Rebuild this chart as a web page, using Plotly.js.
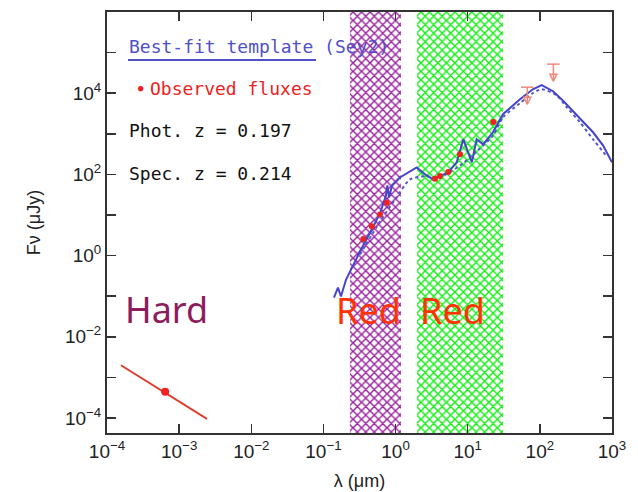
<!DOCTYPE html>
<html>
<head>
<meta charset="utf-8">
<script src="https://cdn.plot.ly/plotly-3.0.1.min.js"></script>
<style>html,body{margin:0;padding:0;background:#fff;}#chart{width:638px;height:492px;}</style>
</head>
<body>
<div id="chart"></div>
<script>
// ---- data (wavelength in micron, flux in microJy) ----
var purpleBand = [0.233, 1.19];
var greenBand = [1.98, 30.8];

var templateX = [0.140, 0.159, 0.175, 0.206, 0.249, 0.321, 0.467, 0.608, 0.736, 0.77, 0.811, 0.893, 1.15, 1.96, 2.56, 3.3, 5.33, 7.04, 8.69, 11.4, 13.3, 16.3, 22.4, 30.8, 53, 80, 106, 152, 210, 288, 400, 546, 750, 1000];
var templateY = [0.092, 0.162, 0.098, 0.257, 0.506, 1.26, 4.39, 10.9, 30.3, 53.5, 27, 53.5, 84, 149, 100, 75, 112, 198, 731, 198, 731, 551, 1090, 3030, 7110, 12500, 15800, 11200, 6500, 3590, 2000, 1090, 520, 198];

var dotX = [0.321, 0.608, 0.98, 1.58, 2.5, 4.0, 6.0, 9.0, 14, 22.4, 30.8, 53, 80, 106, 171, 236, 360, 546, 845];
var dotY = [1.06, 6.9, 24, 75, 90, 85, 120, 200, 400, 900, 2550, 5660, 10000, 12560, 8930, 4510, 1920, 731, 278];

var obsX = [0.357, 0.467, 0.608, 0.753, 3.52, 4.13, 5.38, 7.82, 22.6];
var obsY = [2.58, 5.29, 10.3, 20, 78, 91, 114, 312, 1950];

var ulX = [67, 154];
var ulY = [14060, 52000];

var xrayLineX = [1.56e-4, 2.43e-3];
var xrayLineY = [2.0e-3, 9.5e-5];
var xrayPtX = [6.4e-4];
var xrayPtY = [4.4e-4];

var xTickVals = [1e-4, 1e-3, 1e-2, 1e-1, 1, 10, 100, 1000];
var xTickText = ['10<sup>−4</sup>', '10<sup>−3</sup>', '10<sup>−2</sup>', '10<sup>−1</sup>', '10<sup>0</sup>', '10<sup>1</sup>', '10<sup>2</sup>', '10<sup>3</sup>'];
var yTickVals = [1e-4, 1e-2, 1, 100, 1e4, 1e6];
var yTickText = ['10<sup>−4</sup>', '10<sup>−2</sup>', '10<sup>0</sup>', '10<sup>2</sup>', '10<sup>4</sup>', '10<sup>6</sup>'];
var yMinorVals = [1e-3, 1e-1, 10, 1000, 1e5];

var yLo = 1e-6, yHi = 1e8;
var ulArrow = Math.pow(10, 0.42);

function band(b, color) {
  return {
    x: [b[0], b[0], b[1], b[1], b[0]],
    y: [yLo, yHi, yHi, yLo, yLo],
    type: 'scatter', mode: 'lines', fill: 'toself',
    line: {width: 0, color: 'rgba(0,0,0,0)'},
    fillcolor: 'rgba(255,255,255,0)',
    fillpattern: {shape: 'x', fgcolor: color, bgcolor: 'white', size: 6, solidity: 0.42},
    hoverinfo: 'skip', showlegend: false
  };
}

var traces = [
  band(purpleBand, '#9a22a0'),
  band(greenBand, '#11ee11'),
  {x: dotX, y: dotY, type: 'scatter', mode: 'lines', line: {color: '#5555cc', width: 2, dash: 'dot', shape: 'spline', smoothing: 0.6}, showlegend: false},
  {x: templateX, y: templateY, type: 'scatter', mode: 'lines', line: {color: '#4444cc', width: 2}, showlegend: false},
  {x: obsX, y: obsY, type: 'scatter', mode: 'markers', marker: {color: '#ee2222', size: 6}, showlegend: false},
  {x: ulX, y: ulY, type: 'scatter', mode: 'markers',
   marker: {symbol: 'line-ew-open', size: 9, color: '#f08878', line: {width: 1.5, color: '#f08878'}},
   error_y: {type: 'data', symmetric: false, array: [0, 0], arrayminus: ulY.map(function(v){return v - v / ulArrow;}), width: 0, thickness: 1.5, color: '#f08878'},
   showlegend: false},
  {x: ulX, y: ulY.map(function(v){return v / ulArrow;}), type: 'scatter', mode: 'markers',
   marker: {symbol: 'arrow-down-open', size: 7, color: '#f08878', line: {width: 1.5, color: '#f08878'}}, showlegend: false},
  {x: xrayLineX, y: xrayLineY, type: 'scatter', mode: 'lines', line: {color: '#e03a2a', width: 1.8}, showlegend: false},
  {x: xrayPtX, y: xrayPtY, type: 'scatter', mode: 'markers', marker: {color: '#ee2222', size: 8}, showlegend: false}
];

function px2x(p) { return (p - 107) / 505; }
function px2y(p) { return (433 - p) / 421; }

var mono = 'DejaVu Sans Mono';
var fun = 'Noto Sans';
var annotations = [
  {text: 'Best-fit template (Sey2)', x: px2x(127), y: px2y(46), font: {family: mono, size: 18, color: '#5050c8'}},
  {text: '●', x: px2x(136), y: px2y(88), font: {family: mono, size: 9, color: '#ee2222'}},
  {text: 'Observed fluxes', x: px2x(148), y: px2y(88), font: {family: mono, size: 18, color: '#ee2222'}},
  {text: 'Phot. z = 0.197', x: px2x(127), y: px2y(130), font: {family: mono, size: 18, color: '#111111'}},
  {text: 'Spec. z = 0.214', x: px2x(127), y: px2y(173), font: {family: mono, size: 18, color: '#111111'}},
  {text: 'Hard', x: px2x(123), y: px2y(309), font: {family: fun, size: 36, color: '#8c1c5c'}},
  {text: 'Red', x: px2x(334), y: px2y(310), font: {family: fun, size: 36, color: '#ff3300'}},
  {text: 'Red', x: px2x(418), y: px2y(310), font: {family: fun, size: 36, color: '#ff3300'}}
].map(function(a){ a.xref = 'paper'; a.yref = 'paper'; a.xanchor = 'left'; a.yanchor = 'middle'; a.showarrow = false; return a; });

var axisCommon = {
  type: 'log', showgrid: false, zeroline: false,
  showline: true, linecolor: '#333333', linewidth: 2, mirror: 'ticks',
  ticks: 'inside', ticklen: 9, tickwidth: 1.5, tickcolor: '#333333',
  tickfont: {family: 'Liberation Sans', size: 19, color: '#222222'},
  tickmode: 'array'
};

var layout = {
  width: 638, height: 492,
  margin: {l: 107, r: 26, t: 12, b: 59},
  paper_bgcolor: '#ffffff', plot_bgcolor: '#ffffff',
  showlegend: false,
  xaxis: Object.assign({}, axisCommon, {
    range: [-4, 3], tickvals: xTickVals, ticktext: xTickText,
    title: {text: 'λ (μm)', font: {family: 'Liberation Sans', size: 18, color: '#222222'}, standoff: 14}
  }),
  yaxis: Object.assign({}, axisCommon, {
    range: [-4.37, 6], tickvals: yTickVals, ticktext: yTickText,
    minor: {tickmode: 'array', tickvals: yMinorVals, ticks: 'inside', ticklen: 9, tickwidth: 1.5, tickcolor: '#333333'},
    title: {text: 'Fν (μJy)', font: {family: 'Liberation Sans', size: 18, color: '#222222'}, standoff: 20}
  }),
  shapes: [
    {type: 'line', xref: 'paper', yref: 'paper', x0: px2x(128), x1: px2x(316), y0: px2y(60), y1: px2y(60), line: {color: '#5050c8', width: 2}}
  ],
  annotations: annotations
};

Plotly.newPlot('chart', traces, layout, {displayModeBar: false, staticPlot: true});
</script>
</body>
</html>
